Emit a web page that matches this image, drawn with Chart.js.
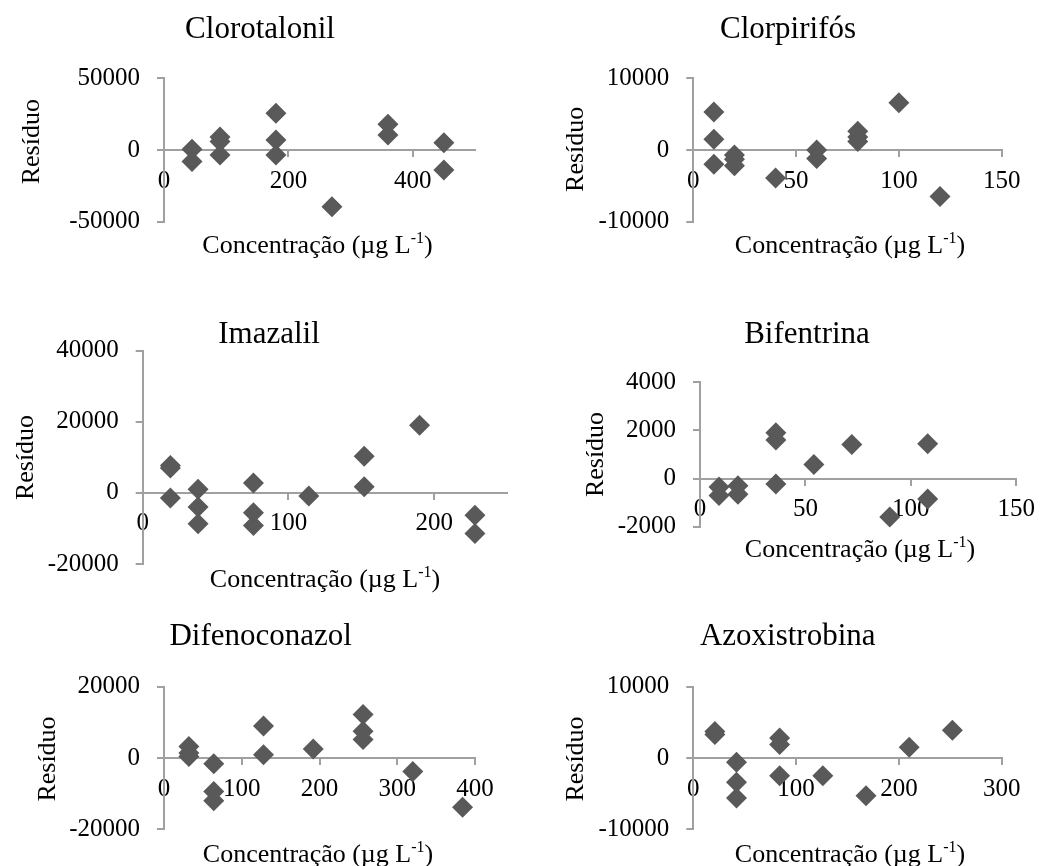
<!DOCTYPE html>
<html>
<head>
<meta charset="utf-8">
<script src="https://cdn.jsdelivr.net/npm/chart.js@4.4.0/dist/chart.umd.min.js"></script>
<style>
  html, body { margin: 0; padding: 0; background: #fff; }
  #page { position: relative; width: 1045px; height: 866px; overflow: hidden; background: #fff; }
  #page canvas { position: absolute; }
</style>
</head>
<body>
<div id="page"></div>
<script>
// --- Dados: resíduo x concentração (µg L-1) ---
const clorotalonilX = [45, 45, 90, 90, 90, 180, 180, 180, 270, 360, 360, 450, 450];
const clorotalonilY = [500, -8000, 9000, 6000, -3500, 25600, 7000, -3500, -39500, 18000, 10500, 5000, -14000];

const clorpirifosX = [10, 10, 10, 20, 20, 20, 40, 60, 60, 80, 80, 80, 100, 120];
const clorpirifosY = [5300, 1500, -2000, -700, -1300, -2200, -3900, 0, -1200, 2600, 1800, 1200, 6600, -6500];

const imazalilX = [19, 19, 19, 38, 38, 38, 76, 76, 76, 114, 152, 152, 190, 228, 228];
const imazalilY = [7700, 7000, -1400, 1000, -4000, -8700, 2800, -5600, -9200, -900, 10300, 1700, 19000, -6300, -11400];

const bifentrinaX = [9, 9, 18, 18, 36, 36, 36, 54, 72, 90, 108, 108];
const bifentrinaY = [-350, -700, -300, -650, 1900, 1600, -230, 580, 1420, -1600, 1450, -850];

const difenoconazolX = [32, 32, 32, 64, 64, 64, 128, 128, 192, 256, 256, 256, 320, 384];
const difenoconazolY = [3200, 1400, 400, -1600, -9400, -12000, 9000, 900, 2500, 12200, 7500, 5200, -3800, -13800];

const azoxistrobinaX = [21, 21, 42, 42, 42, 84, 84, 84, 126, 168, 210, 252];
const azoxistrobinaY = [3700, 3300, -600, -3400, -5600, 2800, 1900, -2500, -2500, -5300, 1500, 3900];

// --- Eixos (limites e passos) ---
const titulos = ['Clorotalonil', 'Clorpirifós', 'Imazalil', 'Bifentrina', 'Difenoconazol', 'Azoxistrobina'];
const seriesX = [clorotalonilX, clorpirifosX, imazalilX, bifentrinaX, difenoconazolX, azoxistrobinaX];
const seriesY = [clorotalonilY, clorpirifosY, imazalilY, bifentrinaY, difenoconazolY, azoxistrobinaY];
const xMax = [500, 150, 250, 150, 400, 300];
const xStep = [200, 50, 100, 50, 100, 100];
const yMin = [-50000, -10000, -20000, -2000, -20000, -10000];
const yMax = [50000, 10000, 40000, 4000, 20000, 10000];
const yStep = [50000, 10000, 20000, 2000, 20000, 10000];

const yTitle = 'Resíduo';
const xTitleMain = 'Concentração (µg L';
const xTitleSup = '-1';
const xTitleEnd = ')';

// --- Layout (coordenadas da página) ---
// os canvas se sobrepõem um pouco (fundo transparente) para não cortar os títulos
const layouts = [
  { left: 0,   top: 0,   width: 520, height: 270, plotL: 164,   plotR: 475,    plotT: 78.3,  plotB: 221.7,
    titleX: 260,   titleY: 38.3,  yTitleX: 39.3,  yTitleY: 141.7, xTitleX: 317.5, xTitleY: 253 },
  { left: 520, top: 0,   width: 525, height: 270, plotL: 693.3, plotR: 1001.7, plotT: 78.3,  plotB: 221.7,
    titleX: 788,   titleY: 38.3,  yTitleX: 583.3, yTitleY: 149.3, xTitleX: 850,   xTitleY: 253 },
  { left: 0,   top: 260, width: 520, height: 342, plotL: 142.7, plotR: 507,    plotT: 350.7, plotB: 564,
    titleX: 269,   titleY: 342.7, yTitleX: 33.3,  yTitleY: 457.5, xTitleX: 325,   xTitleY: 587 },
  { left: 520, top: 260, width: 525, height: 342, plotL: 700,   plotR: 1021.7, plotT: 382.3, plotB: 526.7,
    titleX: 807,   titleY: 342.7, yTitleX: 603.3, yTitleY: 454.5, xTitleX: 860,   xTitleY: 557 },
  { left: 0,   top: 590, width: 520, height: 276, plotL: 164,   plotR: 475,    plotT: 686.7, plotB: 829.3,
    titleX: 260.7, titleY: 645,   yTitleX: 55,    yTitleY: 759,   xTitleX: 318,   xTitleY: 862 },
  { left: 520, top: 590, width: 525, height: 276, plotL: 693.3, plotR: 1001.7, plotT: 686.7, plotB: 829.3,
    titleX: 787.7, titleY: 645,   yTitleX: 583.3, yTitleY: 759,   xTitleX: 850,   xTitleY: 862 }
];

const FONT = '"Liberation Serif", "Times New Roman", serif';
const axisColor = '#a0a0a0';
const markerColor = '#595959';

function textPlugin(title, lay) {
  return {
    id: 'panelText',
    afterDraw(chart) {
      const ctx = chart.ctx;
      ctx.save();
      ctx.fillStyle = '#000';
      ctx.textBaseline = 'alphabetic';

      // titulo do grafico
      ctx.font = '31px ' + FONT;
      ctx.textAlign = 'center';
      ctx.fillText(title, lay.titleX - lay.left, lay.titleY - lay.top);

      // titulo do eixo y (rotacionado)
      ctx.font = '26px ' + FONT;
      ctx.save();
      ctx.translate(lay.yTitleX - lay.left, lay.yTitleY - lay.top);
      ctx.rotate(-Math.PI / 2);
      ctx.fillText(yTitle, 0, 0);
      ctx.restore();

      // titulo do eixo x com sobrescrito
      ctx.textAlign = 'left';
      ctx.font = '26px ' + FONT;
      const wMain = ctx.measureText(xTitleMain).width;
      const wEnd = ctx.measureText(xTitleEnd).width;
      ctx.font = '16px ' + FONT;
      const wSup = ctx.measureText(xTitleSup).width;
      let x = lay.xTitleX - lay.left - (wMain + wSup + wEnd) / 2;
      const y = lay.xTitleY - lay.top;
      ctx.font = '26px ' + FONT;
      ctx.fillText(xTitleMain, x, y);
      x += wMain;
      ctx.font = '16px ' + FONT;
      ctx.fillText(xTitleSup, x, y - 10);
      x += wSup;
      ctx.font = '26px ' + FONT;
      ctx.fillText(xTitleEnd, x, y);
      ctx.restore();
    }
  };
}

const page = document.getElementById('page');

titulos.forEach((title, i) => {
  const lay = layouts[i];
  const canvas = document.createElement('canvas');
  canvas.width = lay.width;
  canvas.height = lay.height;
  canvas.style.left = lay.left + 'px';
  canvas.style.top = lay.top + 'px';
  canvas.style.width = lay.width + 'px';
  canvas.style.height = lay.height + 'px';
  page.appendChild(canvas);

  const points = seriesX[i].map((x, k) => ({ x: x, y: seriesY[i][k] }));
  const step = xStep[i];

  new Chart(canvas, {
    type: 'scatter',
    data: {
      datasets: [{
        data: points,
        pointStyle: 'rectRot',
        pointRadius: 10.5,
        pointHoverRadius: 10.5,
        backgroundColor: markerColor,
        borderWidth: 0,
        clip: false
      }]
    },
    options: {
      responsive: false,
      animation: false,
      devicePixelRatio: 1,
      events: [],
      layout: {
        padding: {
          top: lay.plotT - lay.top,
          right: lay.left + lay.width - lay.plotR,
          bottom: lay.top + lay.height - lay.plotB,
          left: 0
        }
      },
      plugins: {
        legend: { display: false },
        tooltip: { enabled: false },
        title: { display: false }
      },
      scales: {
        x: {
          type: 'linear',
          position: { y: 0 },
          min: 0,
          max: xMax[i],
          afterBuildTicks: s => { s.ticks = s.ticks.filter(t => t.value % step === 0); },
          ticks: {
            stepSize: step,
            autoSkip: false,
            maxRotation: 0,
            padding: 10,
            color: '#000',
            font: { family: FONT, size: 25 },
            callback: v => String(v)
          },
          grid: { drawOnChartArea: false, drawTicks: true, tickLength: 6, color: axisColor, lineWidth: 2 },
          border: { display: true, color: axisColor, width: 2 }
        },
        y: {
          type: 'linear',
          position: 'left',
          min: yMin[i],
          max: yMax[i],
          afterFit: s => { s.width = lay.plotL - lay.left; },
          ticks: {
            stepSize: yStep[i],
            autoSkip: false,
            padding: 17,
            color: '#000',
            font: { family: FONT, size: 25 },
            callback: v => String(v)
          },
          grid: { drawOnChartArea: false, drawTicks: true, tickLength: 7, color: axisColor, lineWidth: 2 },
          border: { display: true, color: axisColor, width: 2 }
        }
      }
    },
    plugins: [textPlugin(title, lay)]
  });
});
</script>
</body>
</html>
